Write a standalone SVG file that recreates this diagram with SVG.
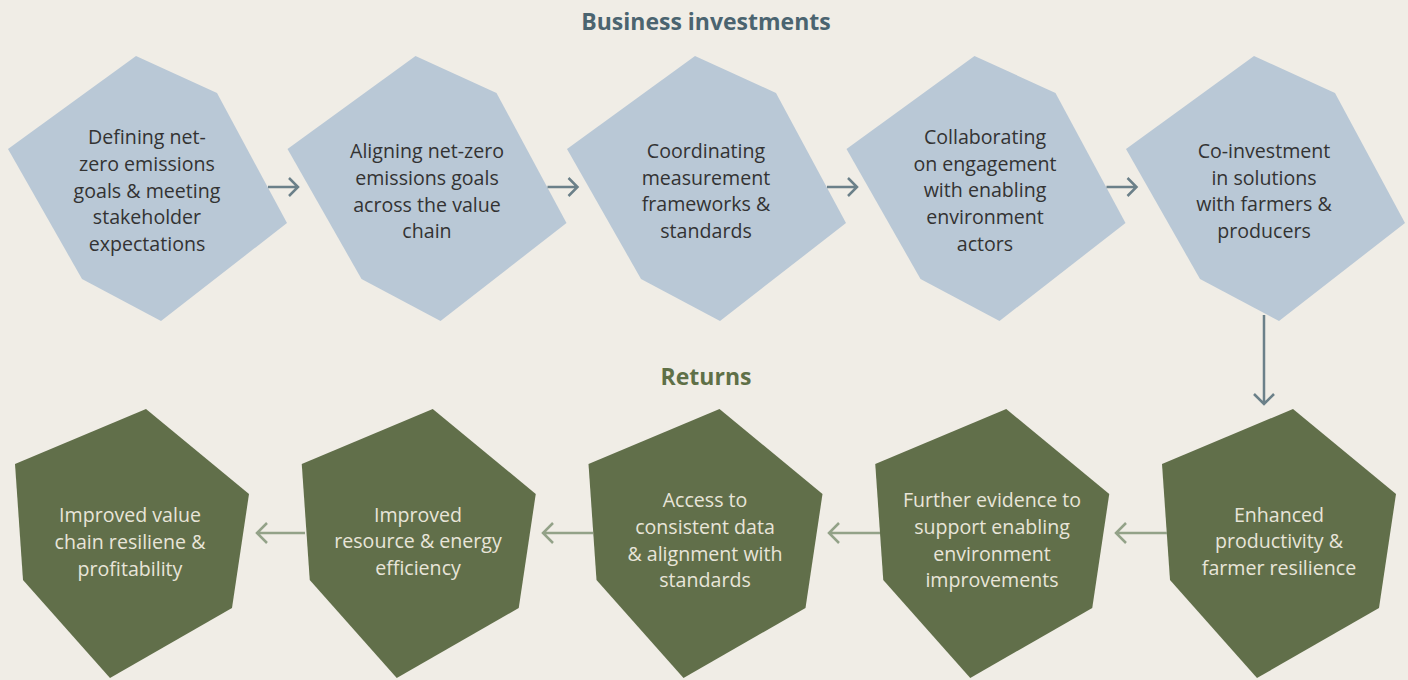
<svg xmlns="http://www.w3.org/2000/svg" width="1408" height="680" viewBox="0 0 1408 680">
<defs>
<style>
.bg{fill:#f0ede6}
.top{fill:#b9c8d6}
.bot{fill:#616f4a}
.tt{font-family:"Open Sans","Liberation Sans",sans-serif;font-size:19.6px;fill:#333333;text-anchor:middle}
.bt{font-family:"Open Sans","Liberation Sans",sans-serif;font-size:19.6px;fill:#e8e5d9;text-anchor:middle}
.h1{font-family:"Open Sans","Liberation Sans",sans-serif;font-size:23px;font-weight:bold;fill:#4b6470;text-anchor:middle}
.h2{font-family:"Open Sans","Liberation Sans",sans-serif;font-size:23px;font-weight:bold;fill:#5f7047;text-anchor:middle}
.at{fill:none;stroke:#6b8089;stroke-width:2.5;stroke-linecap:butt;stroke-linejoin:miter}
.ab{fill:none;stroke:#93a288;stroke-width:2.5;stroke-linecap:butt;stroke-linejoin:miter}
</style>
<polygon id="hexTop" points="136,56 217,93 287,223 161,321 82,279 8,149"/>
<polygon id="hexBot" points="146,409 249,494 232,608 110,678 23,580 15,464"/>
</defs>
<rect class="bg" x="0" y="0" width="1408" height="680"/>
<text class="h1" x="706" y="30">Business investments</text>
<text class="h2" x="706" y="385">Returns</text>

<g id="node-t1"><use href="#hexTop" class="top"/>
<text class="tt"><tspan x="147" y="144">Defining net-</tspan><tspan x="147" y="171">zero emissions</tspan><tspan x="147" y="198">goals &amp; meeting</tspan><tspan x="147" y="224">stakeholder</tspan><tspan x="147" y="251">expectations</tspan></text></g>
<g id="node-t2"><use href="#hexTop" class="top" transform="translate(279.5,0)"/>
<text class="tt"><tspan x="427" y="158">Aligning net-zero</tspan><tspan x="427" y="185">emissions goals</tspan><tspan x="427" y="212">across the value</tspan><tspan x="427" y="238">chain</tspan></text></g>
<g id="node-t3"><use href="#hexTop" class="top" transform="translate(559,0)"/>
<text class="tt"><tspan x="706" y="158">Coordinating</tspan><tspan x="706" y="185">measurement</tspan><tspan x="706" y="211">frameworks &amp;</tspan><tspan x="706" y="238">standards</tspan></text></g>
<g id="node-t4"><use href="#hexTop" class="top" transform="translate(838.5,0)"/>
<text class="tt"><tspan x="985" y="144">Collaborating</tspan><tspan x="985" y="171">on engagement</tspan><tspan x="985" y="197">with enabling</tspan><tspan x="985" y="224">environment</tspan><tspan x="985" y="251">actors</tspan></text></g>
<g id="node-t5"><use href="#hexTop" class="top" transform="translate(1118,0)"/>
<text class="tt"><tspan x="1264" y="158">Co-investment</tspan><tspan x="1264" y="185">in solutions</tspan><tspan x="1264" y="211">with farmers &amp;</tspan><tspan x="1264" y="238">producers</tspan></text></g>

<g id="node-b1"><use href="#hexBot" class="bot"/>
<text class="bt"><tspan x="130" y="522">Improved value</tspan><tspan x="130" y="549">chain resiliene &amp;</tspan><tspan x="130" y="576">profitability</tspan></text></g>
<g id="node-b2"><use href="#hexBot" class="bot" transform="translate(286.75,0)"/>
<text class="bt"><tspan x="418" y="522">Improved</tspan><tspan x="418" y="548">resource &amp; energy</tspan><tspan x="418" y="575">efficiency</tspan></text></g>
<g id="node-b3"><use href="#hexBot" class="bot" transform="translate(573.5,0)"/>
<text class="bt"><tspan x="705" y="507">Access to</tspan><tspan x="705" y="534">consistent data</tspan><tspan x="705" y="561">&amp; alignment with</tspan><tspan x="705" y="587">standards</tspan></text></g>
<g id="node-b4"><use href="#hexBot" class="bot" transform="translate(860.25,0)"/>
<text class="bt"><tspan x="992" y="507">Further evidence to</tspan><tspan x="992" y="534">support enabling</tspan><tspan x="992" y="561">environment</tspan><tspan x="992" y="587">improvements</tspan></text></g>
<g id="node-b5"><use href="#hexBot" class="bot" transform="translate(1147,0)"/>
<text class="bt"><tspan x="1279" y="522">Enhanced</tspan><tspan x="1279" y="548">productivity &amp;</tspan><tspan x="1279" y="575">farmer resilience</tspan></text></g>

<g id="connectors">
<path class="at" d="M268,187 H298 M289,178 L298,187 L289,196"/>
<path class="at" d="M547.5,187 H577.5 M568.5,178 L577.5,187 L568.5,196"/>
<path class="at" d="M827,187 H857 M848,178 L857,187 L848,196"/>
<path class="at" d="M1106.5,187 H1136.5 M1127.5,178 L1136.5,187 L1127.5,196"/>
<path class="at" d="M1264,315 V404 M1254,394 L1264,404 L1274,394"/>
<path class="ab" d="M1167,533 H1116 M1126,523 L1116,533 L1126,543"/>
<path class="ab" d="M880,533 H829 M839,523 L829,533 L839,543"/>
<path class="ab" d="M593,533 H543 M553,523 L543,533 L553,543"/>
<path class="ab" d="M305,533 H257 M267,523 L257,533 L267,543"/>
</g>
</svg>
